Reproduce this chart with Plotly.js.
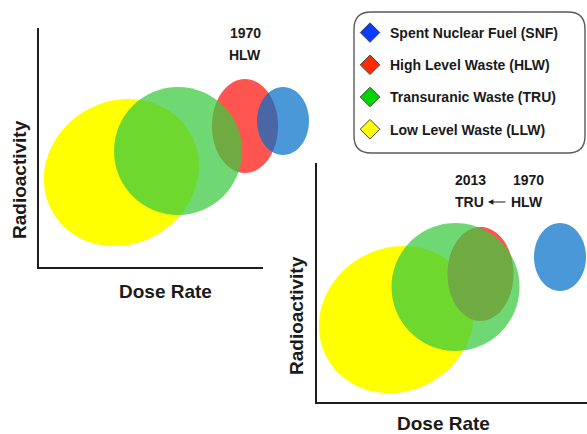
<!DOCTYPE html>
<html><head><meta charset="utf-8">
<script src="https://cdn.plot.ly/plotly-3.0.1.min.js"></script>
<style>html,body{margin:0;padding:0;background:#fff}#chart{width:587px;height:434px}</style>
</head><body><div id="chart"></div>
<script>
// ---- data ----
var categories = ['Spent Nuclear Fuel (SNF)', 'High Level Waste (HLW)', 'Transuranic Waste (TRU)', 'Low Level Waste (LLW)'];
var codes = ['SNF', 'HLW', 'TRU', 'LLW'];
// Panel 1 (1970 view): ellipse centres, semi-axes and tilt (relative dose rate / radioactivity units)
var dose1970 = [244, 206, 139, 82.5];
var activity1970 = [146, 141, 116, 94.5];
var semiMajor1970 = [26, 33, 64, 79.4];
var semiMinor1970 = [34, 47, 64, 71.5];
var tilt1970 = [0, 0, 0, 30];
// Panel 2 (2013 view): HLW moved into the TRU region
var dose2013 = [243, 163.5, 138.5, 79.5];
var activity2013 = [145, 128, 115, 82.5];
var semiMajor2013 = [26, 33, 64, 79.4];
var semiMinor2013 = [34, 47, 64, 71.5];
var tilt2013 = [0, 0, 0, 30];

// ---- styles ----
var fillColors = ['rgb(0,110,200)', 'rgb(255,85,80)', 'rgb(58,201,63)', 'rgb(255,255,0)'];
var fillOpacity = [0.71, 1, 0.73, 1];
var legendColors = ['#0a3cff', '#ff2a00', '#00d400', '#ffff00'];
var drawOrder = [3, 1, 2, 0];
var FONT = 'Liberation Sans, Arial, sans-serif';
var W = 587, H = 434;
function px(x) { return x / W; }
function py(y) { return (H - y) / H; }

// ellipse outline as 4 cubic Bezier arcs (in axis data units)
function ellipsePath(cx, cy, a, b, deg) {
  var t = deg * Math.PI / 180, k = 0.5523;
  var ux = Math.cos(t), uy = Math.sin(t), vx = -Math.sin(t), vy = Math.cos(t);
  function P(p, q) { return (cx + p * a * ux + q * b * vx).toFixed(2) + ',' + (cy + p * a * uy + q * b * vy).toFixed(2); }
  return 'M' + P(1, 0) +
    ' C' + P(1, k) + ' ' + P(k, 1) + ' ' + P(0, 1) +
    ' C' + P(-k, 1) + ' ' + P(-1, k) + ' ' + P(-1, 0) +
    ' C' + P(-1, -k) + ' ' + P(-k, -1) + ' ' + P(0, -1) +
    ' C' + P(k, -1) + ' ' + P(1, -k) + ' ' + P(1, 0) + ' Z';
}

var shapes = [];
function addEllipses(dx, dy, sa, sb, tilt, xr, yr) {
  drawOrder.forEach(function (i) {
    shapes.push({
      type: 'path', xref: xr, yref: yr,
      path: ellipsePath(dx[i], dy[i], sa[i], sb[i], tilt[i]),
      fillcolor: fillColors[i], opacity: fillOpacity[i],
      line: { width: 0 }, layer: 'above'
    });
  });
}
addEllipses(dose1970, activity1970, semiMajor1970, semiMinor1970, tilt1970, 'x', 'y');
addEllipses(dose2013, activity2013, semiMajor2013, semiMinor2013, tilt2013, 'x2', 'y2');

// rounded legend box
(function () {
  var x0 = 354, x1 = 585, y0 = 12, y1 = 153, r = 17;
  var p = 'M' + px(x0 + r) + ',' + py(y0) +
    ' L' + px(x1 - r) + ',' + py(y0) +
    ' Q' + px(x1) + ',' + py(y0) + ' ' + px(x1) + ',' + py(y0 + r) +
    ' L' + px(x1) + ',' + py(y1 - r) +
    ' Q' + px(x1) + ',' + py(y1) + ' ' + px(x1 - r) + ',' + py(y1) +
    ' L' + px(x0 + r) + ',' + py(y1) +
    ' Q' + px(x0) + ',' + py(y1) + ' ' + px(x0) + ',' + py(y1 - r) +
    ' L' + px(x0) + ',' + py(y0 + r) +
    ' Q' + px(x0) + ',' + py(y0) + ' ' + px(x0 + r) + ',' + py(y0) + ' Z';
  shapes.push({ type: 'path', xref: 'paper', yref: 'paper', path: p,
    line: { color: '#5a5a5a', width: 1.4 }, fillcolor: 'rgba(0,0,0,0)', layer: 'below' });
})();

var traces = categories.map(function (name, i) {
  return {
    type: 'scatter', mode: 'markers', x: [null], y: [null], name: name,
    legendgroup: codes[i], xaxis: 'x', yaxis: 'y', hoverinfo: 'skip',
    marker: { symbol: 'diamond', size: 15, color: legendColors[i], line: { color: '#444', width: 1 } }
  };
});
traces.push({ type: 'scatter', mode: 'markers', x: [null], y: [null], xaxis: 'x3', yaxis: 'y3', showlegend: false, hoverinfo: 'skip' });

var frameAxis = { showline: true, linecolor: '#1e1e1e', linewidth: 2, showticklabels: false, ticks: '',
  showgrid: false, zeroline: false, fixedrange: true };
var hidden = { visible: false, showgrid: false, zeroline: false, fixedrange: true };

var tFont = { family: FONT, size: 14, color: '#1a1a1a', weight: 'bold' };
var axFont = { family: FONT, size: 19, color: '#1a1a1a', weight: 'bold' };
function lab(text, x, y, xr, yr, font, angle) {
  return { text: text, x: x, y: y, xref: xr, yref: yr, showarrow: false, font: font,
    textangle: angle || 0, xanchor: 'center', yanchor: 'middle' };
}
var annotations = [
  lab('1970', 206, 234, 'x', 'y', tFont),
  lab('HLW', 206, 212, 'x', 'y', tFont),
  lab('2013', 153, 222, 'x2', 'y2', tFont),
  lab('1970', 211, 222, 'x2', 'y2', tFont),
  lab('TRU', 152, 200, 'x2', 'y2', tFont),
  lab('HLW', 210, 200, 'x2', 'y2', tFont),
  { text: '', x: 171, y: 200, xref: 'x2', yref: 'y2', showarrow: true, ax: 19, ay: 0,
    arrowhead: 2, arrowsize: 0.9, arrowwidth: 1.2, arrowcolor: '#1a1a1a', standoff: 0 },
  lab('Dose Rate', px(165), py(291), 'paper', 'paper', axFont),
  lab('Radioactivity', px(19), py(180), 'paper', 'paper', axFont, -90),
  lab('Dose Rate', px(443), py(423), 'paper', 'paper', axFont),
  lab('Radioactivity', px(296), py(315), 'paper', 'paper', axFont, -90)
];

var layout = {
  width: W, height: H, margin: { l: 0, r: 0, t: 0, b: 0 },
  paper_bgcolor: '#ffffff', plot_bgcolor: 'rgba(0,0,0,0)',
  showlegend: true,
  legend: { x: px(350), y: py(17), xanchor: 'left', yanchor: 'top', bgcolor: 'rgba(0,0,0,0)', borderwidth: 0,
    font: { family: FONT, size: 14, color: '#1a1a1a', weight: 'bold' }, traceorder: 'grouped', tracegroupgap: 11 },
  xaxis: Object.assign({ domain: [px(39), px(330)], range: [0, 291], anchor: 'y' }, hidden),
  yaxis: Object.assign({ domain: [py(267), py(28)], range: [0, 239], anchor: 'x' }, hidden),
  xaxis3: Object.assign({ domain: [px(39), px(263)], range: [0, 1], anchor: 'y3' }, frameAxis),
  yaxis3: Object.assign({ domain: [py(267), py(28)], range: [0, 1], anchor: 'x3' }, frameAxis),
  xaxis2: Object.assign({ domain: [px(317), 1], range: [0, 270], anchor: 'y2' }, frameAxis),
  yaxis2: Object.assign({ domain: [py(402), py(163)], range: [0, 239], anchor: 'x2' }, frameAxis),
  shapes: shapes, annotations: annotations,
  font: { family: FONT }
};
Plotly.newPlot('chart', traces, layout, { displayModeBar: false, staticPlot: true });
</script></body></html>
